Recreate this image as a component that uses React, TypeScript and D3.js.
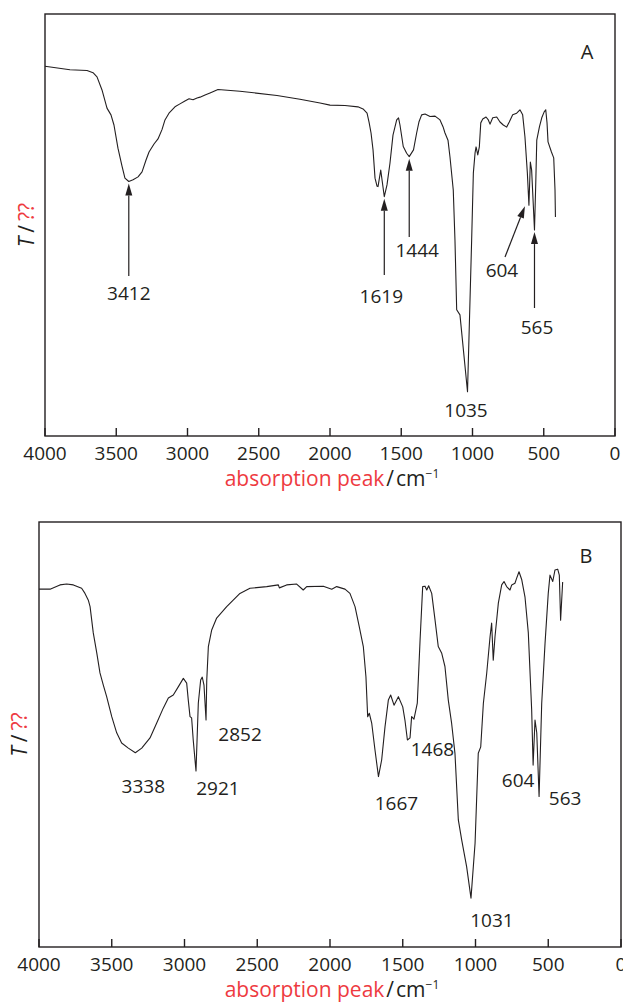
import * as d3 from 'd3';
import React from 'react';

// wavenumber ticks (cm-1), axis runs high -> low
const tickValues = [4000, 3500, 3000, 2500, 2000, 1500, 1000, 500, 0];

// sample A: [wavenumber, transmittance (% of plot height)]
const spectrumA: [number, number][] = [
  [4000, 87.6], [3825, 86.8], [3705, 86.6], [3663, 86.1], [3635, 85.1], [3600, 82.0],
  [3565, 77.7], [3537, 76.1], [3516, 73.7], [3488, 68.2], [3460, 64.0], [3439, 61.1],
  [3412, 60.3], [3382, 60.7], [3347, 61.4], [3319, 62.6], [3291, 65.4], [3270, 67.3],
  [3235, 69.2], [3207, 70.4], [3179, 72.6], [3158, 74.9], [3130, 76.5], [3088, 78.0],
  [3053, 78.7], [3018, 79.4], [2989, 79.9], [2961, 79.7], [2933, 80.1], [2912, 80.3],
  [2877, 80.8], [2842, 81.3], [2786, 82.1], [2632, 81.7], [2372, 80.7], [2211, 79.8],
  [2070, 78.9], [2000, 78.4], [1895, 78.3], [1804, 78.0], [1768, 77.5], [1740, 76.5],
  [1726, 74.4], [1712, 71.8], [1698, 67.8], [1684, 61.1], [1670, 59.2], [1663, 59.1],
  [1644, 63.0], [1619, 56.7], [1600, 59.5], [1579, 64.7], [1558, 71.3], [1532, 74.9],
  [1519, 75.4], [1509, 73.7], [1486, 68.6], [1462, 67.0], [1444, 66.2], [1414, 67.8],
  [1392, 71.8], [1376, 74.4], [1357, 76.1], [1333, 76.3], [1298, 75.7], [1263, 75.8],
  [1228, 74.9], [1207, 73.3], [1193, 71.8], [1172, 70.1], [1158, 66.1], [1135, 58.3],
  [1123, 46.4], [1111, 29.9], [1088, 28.7], [1035, 10.5], [1006, 46.4], [994, 62.3],
  [982, 67.1], [975, 68.5], [963, 66.6], [952, 68.5], [942, 74.2], [928, 75.1],
  [905, 75.6], [889, 74.9], [877, 73.9], [858, 75.4], [830, 75.6], [807, 74.4],
  [784, 73.7], [760, 73.2], [742, 74.4], [718, 76.1], [690, 76.5], [667, 77.3],
  [648, 76.1], [632, 70.9], [615, 62.3], [604, 54.7], [594, 64.9], [585, 63.0],
  [565, 48.8], [556, 60.0], [549, 70.1], [530, 73.3], [514, 75.4], [497, 76.8],
  [486, 77.3], [477, 74.2], [470, 69.7], [446, 67.3], [430, 65.9], [421, 58.3],
  [418, 51.9],
];

// sample B
const spectrumB: [number, number][] = [
  [4000, 84.2], [3924, 84.2], [3856, 85.2], [3810, 85.4], [3764, 85.2], [3707, 84.4],
  [3684, 83.2], [3661, 81.6], [3649, 80.1], [3627, 73.9], [3603, 69.2], [3581, 64.5],
  [3558, 61.6], [3535, 58.9], [3500, 54.2], [3466, 50.4], [3432, 48.0], [3386, 46.8],
  [3338, 45.7], [3294, 46.8], [3237, 49.2], [3191, 52.7], [3146, 56.2], [3111, 58.6],
  [3077, 59.3], [3043, 61.2], [3008, 63.2], [2985, 62.1], [2974, 58.1], [2962, 54.2],
  [2951, 53.9], [2940, 48.7], [2921, 41.4], [2905, 57.4], [2889, 62.8], [2878, 63.5],
  [2866, 61.6], [2852, 53.4], [2847, 62.8], [2836, 70.7], [2813, 74.6], [2779, 77.4],
  [2710, 80.1], [2619, 83.2], [2550, 84.4], [2435, 84.8], [2355, 85.2], [2348, 84.5],
  [2298, 85.2], [2229, 85.4], [2184, 84.0], [2160, 84.8], [2046, 84.9], [1988, 84.2],
  [1954, 84.8], [1897, 84.2], [1863, 83.2], [1828, 80.1], [1799, 75.4], [1771, 70.7],
  [1753, 63.6], [1741, 54.2], [1730, 55.0], [1713, 52.6], [1691, 46.4], [1667, 40.1],
  [1645, 44.0], [1622, 51.8], [1599, 58.1], [1583, 59.3], [1560, 56.9], [1530, 58.9],
  [1500, 56.5], [1485, 53.4], [1468, 48.7], [1450, 49.2], [1439, 54.2], [1423, 53.6],
  [1400, 57.4], [1381, 72.2], [1363, 84.8], [1347, 84.9], [1335, 84.0], [1322, 85.0],
  [1301, 83.2], [1278, 76.9], [1256, 70.7], [1232, 69.1], [1210, 66.0], [1187, 58.1],
  [1164, 52.6], [1141, 45.5], [1118, 29.9], [1095, 25.2], [1061, 18.9], [1031, 11.5],
  [1003, 24.4], [981, 45.6], [964, 47.1], [946, 57.3], [923, 64.4], [900, 73.0],
  [889, 76.2], [878, 67.5], [866, 73.0], [843, 80.9], [820, 85.2], [804, 86.0],
  [786, 84.8], [763, 84.0], [751, 85.2], [729, 85.6], [717, 86.8], [701, 88.3],
  [682, 86.4], [660, 82.4], [637, 73.9], [614, 55.8], [604, 42.8], [591, 53.4],
  [579, 50.4], [563, 35.4], [545, 57.3], [522, 71.5], [500, 83.2], [488, 87.5],
  [469, 86.0], [454, 88.7], [435, 88.9], [424, 87.5], [415, 76.9], [401, 85.9],
];

const peaksA = [3412, 1619, 1444, 1035, 604, 565];
const peaksB = [3338, 2921, 2852, 1667, 1468, 1031, 604, 563];

const INK = '#231f20';
const RED = '#ee3a3f';
const FONT = '"Open Sans", "Liberation Sans", sans-serif';

type Note = { ldx: number; ly: number; tailY?: number; tail?: [number, number]; tipDx?: number };

// label / arrow placement (page px)
const notesA: Record<number, Note> = {
  3412: { ldx: 0, ly: 300, tailY: 276 },
  1619: { ldx: -3, ly: 303, tailY: 275 },
  1444: { ldx: 8, ly: 257, tailY: 237 },
  1035: { ldx: -1.5, ly: 417 },
  604: { ldx: -27, ly: 277, tail: [505, 257], tipDx: -4 },
  565: { ldx: 2.5, ly: 334, tailY: 308 },
};
const notesB: Record<number, Note> = {
  3338: { ldx: 8, ly: 793 },
  2921: { ldx: 22, ly: 795 },
  2852: { ldx: 34, ly: 741 },
  1667: { ldx: 18, ly: 810 },
  1468: { ldx: 25, ly: 756 },
  1031: { ldx: 21, ly: 927 },
  604: { ldx: -15, ly: 787 },
  563: { ldx: 26, ly: 805 },
};

type PanelProps = {
  data: [number, number][];
  peaks: number[];
  notes: Record<number, Note>;
  left: number; right: number; top: number; bottom: number;
  tag: string; tagX: number; tagY: number; yLabelX: number;
};

const Arrow = ({ x0, y0, x1, y1 }: { x0: number; y0: number; x1: number; y1: number }) => {
  const len = Math.hypot(x1 - x0, y1 - y0);
  const ux = (x1 - x0) / len, uy = (y1 - y0) / len;
  const hl = 12, hw = 3.5;
  const bx = x1 - ux * hl, by = y1 - uy * hl;
  const pts = [[x1, y1], [bx - uy * hw, by + ux * hw], [bx + uy * hw, by - ux * hw]];
  return (
    <g>
      <line x1={x0} y1={y0} x2={bx} y2={by} stroke={INK} strokeWidth={1.2} />
      <polygon points={pts.map(p => p.join(',')).join(' ')} fill={INK} />
    </g>
  );
};

const Panel = (p: PanelProps) => {
  const x = d3.scaleLinear().domain([4000, 0]).range([p.left, p.right]);
  const y = d3.scaleLinear().domain([0, 100]).range([p.bottom, p.top]);
  const line = d3.line<[number, number]>().x(d => x(d[0])).y(d => y(d[1]));
  const valueAt = (wn: number) => (p.data.find(d => d[0] === wn) || [wn, 0])[1];
  const cx = (p.left + p.right) / 2;

  return (
    <g fontFamily={FONT}>
      <rect x={p.left} y={p.top} width={p.right - p.left} height={p.bottom - p.top}
        fill="none" stroke={INK} strokeWidth={1.4} />
      {tickValues.map(t => (
        <g key={t}>
          <line x1={x(t)} x2={x(t)} y1={p.bottom} y2={p.bottom - 8} stroke={INK} strokeWidth={1.4} />
          <text x={x(t)} y={p.bottom + 24} textAnchor="middle" fontSize={19} fill={INK}>{t}</text>
        </g>
      ))}
      <path d={line(p.data) || ''} fill="none" stroke={INK} strokeWidth={1.1} strokeLinejoin="round" />
      {p.peaks.map(wn => {
        const n = p.notes[wn];
        const px = x(wn);
        const tipY = y(valueAt(wn)) + 2;
        return (
          <g key={wn}>
            {n.tailY !== undefined && <Arrow x0={px} y0={n.tailY} x1={px} y1={tipY} />}
            {n.tail && <Arrow x0={n.tail[0]} y0={n.tail[1]} x1={px + (n.tipDx || 0)} y1={tipY - 1} />}
            <text x={px + n.ldx} y={n.ly} textAnchor="middle" fontSize={19} fill={INK}>{wn}</text>
          </g>
        );
      })}
      <text x={p.tagX} y={p.tagY} textAnchor="middle" fontSize={20} fill={INK}>{p.tag}</text>
      <text transform={`translate(${p.yLabelX},${(p.top + p.bottom) / 2}) rotate(-90)`}
        textAnchor="middle" fontSize={21} fill={INK}>
        <tspan fontStyle="italic">T</tspan>
        <tspan dx={4}>/</tspan>
        <tspan dx={4} fill={RED}>??</tspan>
      </text>
      <text x={cx + 2} y={p.bottom + 50} textAnchor="middle" fontSize={21} fill={INK}>
        <tspan fill={RED}>absorption peak</tspan>
        <tspan dx={2}>/</tspan>
        <tspan dx={2}>cm</tspan>
        <tspan dy={-8} fontSize={12}>−1</tspan>
      </text>
    </g>
  );
};

export default function App() {
  return (
    <div style={{ position: 'absolute', left: 0, top: 0 }}>
      <svg width={623} height={1005} style={{ display: 'block', background: '#fff' }}>
        <Panel data={spectrumA} peaks={peaksA} notes={notesA}
          left={45} right={615} top={14} bottom={436}
          tag="A" tagX={587} tagY={59} yLabelX={34} />
        <Panel data={spectrumB} peaks={peaksB} notes={notesB}
          left={39} right={621} top={522} bottom={947}
          tag="B" tagX={586} tagY={563} yLabelX={27} />
      </svg>
    </div>
  );
}
